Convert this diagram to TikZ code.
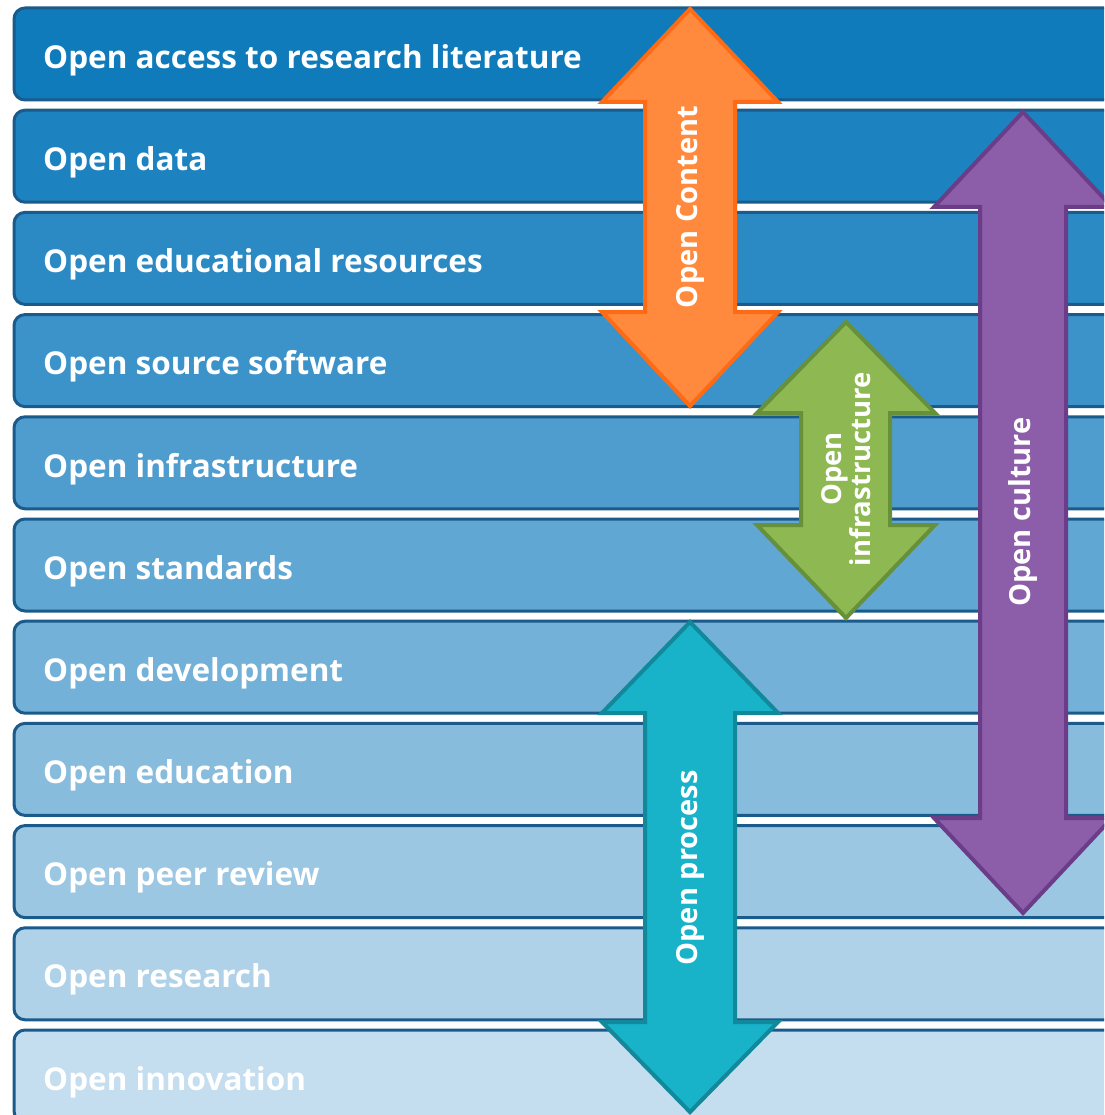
\documentclass[tikz,border=0pt]{standalone}
\usepackage{fontspec}
\setmainfont{Open Sans}
\begin{document}
\begin{tikzpicture}[x=1pt,y=-1pt,
  bar/.style={draw=barline,line width=3pt,rounded corners=11pt},
  bartext/.style={anchor=west,text=white,font=\bfseries\fontsize{31.5}{32}\selectfont,inner sep=0pt},
  arrowshape/.style={line width=4pt,line join=miter},
  arrowtext/.style={text=white,font=\bfseries\fontsize{29}{30}\selectfont,rotate=90,align=center,inner sep=0pt}]
\definecolor{barline}{HTML}{1B5B8C}
\definecolor{c1}{HTML}{0F7BBB}
\definecolor{c2}{HTML}{1D83C0}
\definecolor{c3}{HTML}{2B8AC4}
\definecolor{c4}{HTML}{3C93C9}
\definecolor{c5}{HTML}{4E9DCE}
\definecolor{c6}{HTML}{60A7D3}
\definecolor{c7}{HTML}{74B1D8}
\definecolor{c8}{HTML}{88BCDD}
\definecolor{c9}{HTML}{9CC7E3}
\definecolor{c10}{HTML}{B0D2E9}
\definecolor{c11}{HTML}{C4DDEF}
\definecolor{orfill}{HTML}{FF8A3D}
\definecolor{ordraw}{HTML}{FF6A14}
\definecolor{grfill}{HTML}{8DB852}
\definecolor{grdraw}{HTML}{66903A}
\definecolor{pufill}{HTML}{8C5DA8}
\definecolor{pudraw}{HTML}{6B3D88}
\definecolor{tefill}{HTML}{18B2C9}
\definecolor{tedraw}{HTML}{12889B}
\useasboundingbox[fill=white] (0,0) rectangle (1104,1115);
\clip (0,0) rectangle (1104,1115);
\foreach \i/\t in {0/Open access to research literature,1/Open data,2/Open educational resources,3/Open source software,4/Open infrastructure,5/Open standards,6/Open development,7/Open education,8/Open peer review,9/Open research,10/Open innovation}{
  \pgfmathsetmacro{\top}{8+102.2*\i}
  \pgfmathsetmacro{\bot}{\top+92}
  \pgfmathtruncatemacro{\k}{\i+1}
  \draw[bar,fill=c\k] (1115,\top) -- (14,\top) -- (14,\bot) -- (1115,\bot);
  \node[bartext] (bar\k) at (43,{\top+52}) {\t};
}
% Open Content (orange)
\draw[arrowshape,fill=orfill,draw=ordraw] (690,9) -- (602,102) -- (645,102) -- (645,312) -- (602,312) -- (690,406) -- (778,312) -- (735,312) -- (735,102) -- (778,102) -- cycle;
\node[arrowtext] (content) at (690,207) {Open Content};
% Open infrastructure (green)
\draw[arrowshape,fill=grfill,draw=grdraw] (846,322) -- (757,413) -- (801,413) -- (801,525) -- (757,525) -- (846,618) -- (935,525) -- (890,525) -- (890,413) -- (935,413) -- cycle;
\node[arrowtext,font=\bfseries\fontsize{27.5}{29}\selectfont] (infra) at (846,469) {Open\\infrastructure};
% Open culture (purple)
\draw[arrowshape,fill=pufill,draw=pudraw] (1023,112) -- (934,207) -- (980,207) -- (980,818) -- (934,818) -- (1023,913) -- (1112,818) -- (1066,818) -- (1066,207) -- (1112,207) -- cycle;
\node[arrowtext] (culture) at (1023,512) {Open culture};
% Open process (teal)
\draw[arrowshape,fill=tefill,draw=tedraw] (690,622) -- (602,713) -- (645,713) -- (645,1022) -- (602,1022) -- (690,1112) -- (778,1022) -- (735,1022) -- (735,713) -- (778,713) -- cycle;
\node[arrowtext] (process) at (690,868) {Open process};
\end{tikzpicture}
\end{document}
